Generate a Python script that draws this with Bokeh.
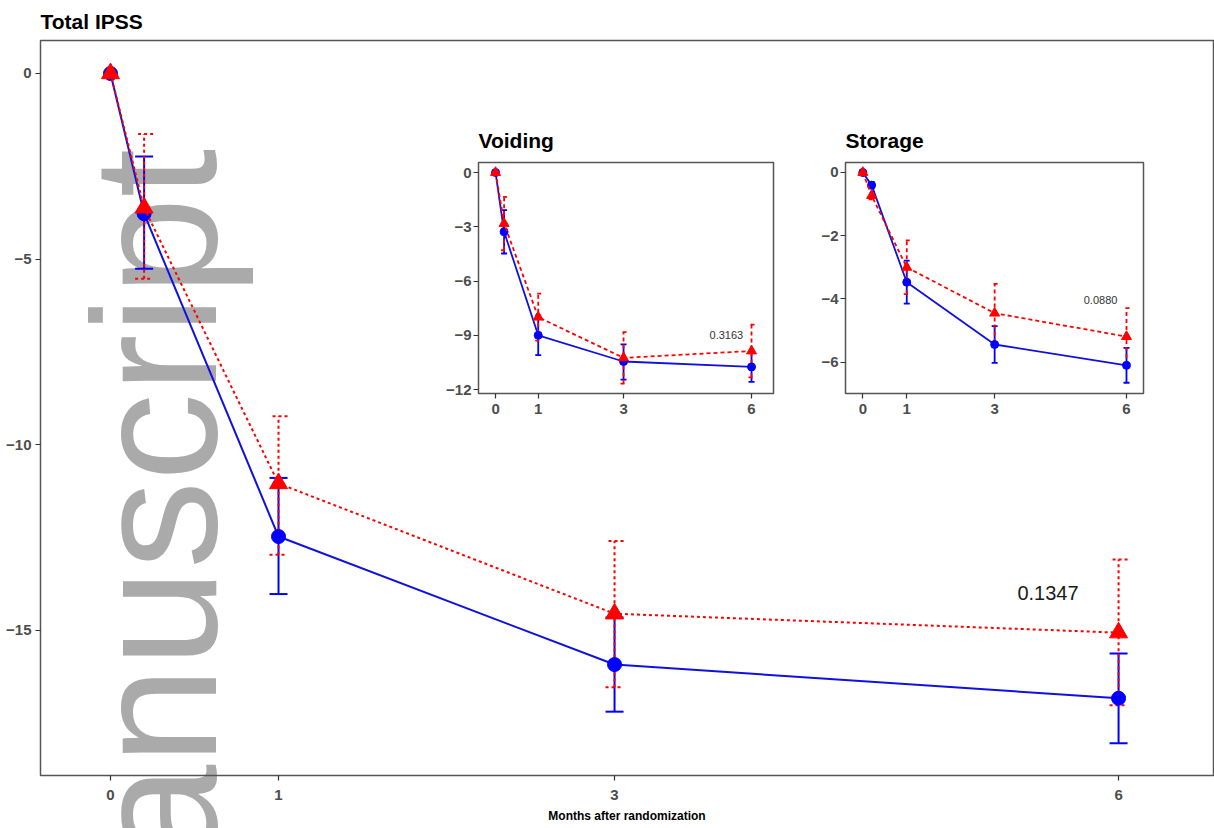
import math
from bokeh.plotting import figure
from bokeh.models import ColumnDataSource, Whisker, Label, FixedTicker, Range1d, TeeHead
from bokeh.layouts import column
from bokeh.embed import file_html
from bokeh.resources import INLINE

# ---------------- data ----------------
months = [0, 0.2, 1, 3, 6]
x_ticks = [0, 1, 3, 6]

total_ticks = [0, -5, -10, -15]
total_blue = [0, -3.78, -12.48, -15.93, -16.84]
total_blue_lo = [0, -5.26, -14.03, -17.2, -18.05]
total_blue_hi = [0, -2.24, -10.9, -14.66, -15.63]
total_red = [0, -3.62, -11.05, -14.56, -15.07]
total_red_lo = [0, -5.53, -12.97, -16.54, -17.03]
total_red_hi = [0, -1.63, -9.24, -12.6, -13.1]
total_p = "0.1347"

void_ticks = [0, -3, -6, -9, -12]
void_blue = [0, -3.28, -9.0, -10.45, -10.75]
void_blue_lo = [0, -4.48, -10.1, -11.45, -11.58]
void_blue_hi = [0, -2.08, -7.9, -9.5, -9.92]
void_red = [0, -2.82, -8.0, -10.25, -9.87]
void_red_lo = [0, -4.3, -9.3, -11.67, -11.33]
void_red_hi = [0, -1.35, -6.7, -8.83, -8.41]
void_p = "0.3163"

stor_ticks = [0, -2, -4, -6]
stor_blue = [0, -0.40, -3.47, -5.44, -6.10]
stor_blue_lo = [0, -0.50, -4.15, -6.02, -6.65]
stor_blue_hi = [0, -0.30, -2.79, -4.86, -5.55]
stor_red = [0, -0.73, -3.00, -4.45, -5.19]
stor_red_lo = [0, -0.85, -3.85, -5.38, -6.09]
stor_red_hi = [0, -0.60, -2.15, -3.52, -4.29]
stor_p = "0.0880"

watermark = "Manuscript"

FONT = "Liberation Sans"
BLUE = "#0000ff"
RED = "#ff0000"
AXIS_GREY = "#4d4d4d"


def style_axes(f, yticks, tick_size, x_standoff, y_standoff):
    f.xgrid.visible = False
    f.ygrid.visible = False
    f.outline_line_color = "#555555"
    f.outline_line_width = 1.5
    f.xaxis.ticker = FixedTicker(ticks=x_ticks)
    f.yaxis.ticker = FixedTicker(ticks=yticks)
    for ax in (f.xaxis[0], f.yaxis[0]):
        ax.axis_line_color = None
        ax.major_tick_in = 0
        ax.major_tick_out = 5
        ax.major_tick_line_color = "#333333"
        ax.major_tick_line_width = 1.2
        ax.minor_tick_line_color = None
        ax.major_label_text_font = FONT
        ax.major_label_text_font_style = "bold"
        ax.major_label_text_font_size = tick_size
        ax.major_label_text_color = AXIS_GREY
    f.xaxis[0].major_label_standoff = x_standoff
    f.yaxis[0].major_label_standoff = y_standoff


def add_series(f, x, b, blo, bhi, r, rlo, rhi, big):
    lw = 2 if big else 1.8
    cap = 18 if big else 6
    msize_c = 14 if big else 8
    msize_t = 18 if big else 10
    dash = "3 3" if big else "4 3"
    sb = ColumnDataSource(dict(x=x[1:], lo=blo[1:], hi=bhi[1:]))
    sr = ColumnDataSource(dict(x=x[1:], lo=rlo[1:], hi=rhi[1:]))
    f.add_layout(Whisker(source=sb, base="x", lower="lo", upper="hi", dimension="height",
                         line_color=BLUE, line_width=lw,
                         upper_head=TeeHead(size=cap, line_color=BLUE, line_width=lw),
                         lower_head=TeeHead(size=cap, line_color=BLUE, line_width=lw)))
    f.add_layout(Whisker(source=sr, base="x", lower="lo", upper="hi", dimension="height",
                         line_color=RED, line_width=lw, line_dash=dash,
                         upper_head=TeeHead(size=cap, line_color=RED, line_width=lw, line_dash=dash),
                         lower_head=TeeHead(size=cap, line_color=RED, line_width=lw, line_dash=dash)))
    f.line(x, b, line_color="#1010e0", line_width=lw)
    f.scatter(x, b, marker="circle", size=msize_c, fill_color=BLUE, line_color=BLUE)
    f.line(x, r, line_color=RED, line_width=lw, line_dash=dash)
    f.scatter(x, r, marker="triangle", size=msize_t, fill_color=RED, line_color=RED)


# ---------------- watermark layer (behind everything) ----------------
wm = figure(width=1214, height=828, x_range=Range1d(0, 1214), y_range=Range1d(0, 828),
            output_backend="svg", toolbar_location=None,
            x_axis_location=None, y_axis_location=None, min_border=0,
            background_fill_color="white", border_fill_color="white", outline_line_color=None,
            styles={"position": "absolute", "left": "0px", "top": "0px"})
wm.xgrid.visible = False
wm.ygrid.visible = False
wm.add_layout(Label(x=119, y=680, text=watermark, angle=math.pi / 2, text_align="right",
                    text_baseline="middle", text_font=FONT, text_font_size="176px",
                    text_color="#aaaaaa"))

# ---------------- main plot ----------------
p = figure(frame_width=1173, frame_height=735,
           x_range=Range1d(-0.4167, 6.565), y_range=Range1d(-18.92, 0.889),
           output_backend="svg", toolbar_location=None,
           min_border_left=40, min_border_right=1, min_border_top=40, min_border_bottom=53,
           background_fill_color=None, border_fill_color=None)
p.title.text = "Total IPSS"
p.title.text_font = FONT
p.title.text_font_style = "bold"
p.title.text_font_size = "21px"
p.title.text_color = "black"
p.title.align = "left"
p.title.offset = 0
p.title.standoff = 15
style_axes(p, total_ticks, "15px", 9, 4)
p.xaxis.axis_label = "Months after randomization"
p.xaxis.axis_label_text_font = FONT
p.xaxis.axis_label_text_font_style = "bold"
p.xaxis.axis_label_text_font_size = "12px"
p.xaxis.axis_label_text_color = "black"
p.xaxis.axis_label_standoff = 6

add_series(p, months, total_blue, total_blue_lo, total_blue_hi,
           total_red, total_red_lo, total_red_hi, True)
p.add_layout(Label(x=5.58, y=-14.0, text=total_p, text_align="center", text_baseline="middle",
                   text_font=FONT, text_font_size="20px", text_color="#1a1a1a"))


# ---------------- insets ----------------
def inset(title, xr, yr, yticks, fw, left, top, b, blo, bhi, r, rlo, rhi, ptxt, px, py):
    f = figure(frame_width=fw, frame_height=231, x_range=Range1d(*xr), y_range=Range1d(*yr),
               output_backend="svg", toolbar_location=None,
               min_border_left=40, min_border_right=6, min_border_top=46, min_border_bottom=30,
               background_fill_color="white", border_fill_color=None,
               styles={"position": "absolute", "left": f"{left}px", "top": f"{top}px"})
    f.title.text = title
    f.title.text_font = FONT
    f.title.text_font_style = "bold"
    f.title.text_font_size = "21px"
    f.title.text_color = "black"
    f.title.align = "left"
    f.title.offset = 0
    f.title.standoff = 21
    style_axes(f, yticks, "15px", 5, 2)
    add_series(f, months, b, blo, bhi, r, rlo, rhi, False)
    f.add_layout(Label(x=px, y=py, text=ptxt, text_align="center", text_baseline="middle",
                       text_font=FONT, text_font_size="11px", text_color="#333333"))
    return f


v = inset("Voiding", (-0.40, 6.515), (-12.22, 0.553), void_ticks, 295, 438, 116,
          void_blue, void_blue_lo, void_blue_hi, void_red, void_red_lo, void_red_hi,
          void_p, 5.41, -9.01)
s = inset("Storage", (-0.394, 6.387), (-6.99, 0.316), stor_ticks, 298, 805, 116,
          stor_blue, stor_blue_lo, stor_blue_hi, stor_red, stor_red_lo, stor_red_hi,
          stor_p, 5.41, -4.03)

root = column(wm, p, v, s, styles={"position": "relative"})
open("out.html", "w").write(file_html(root, INLINE))
